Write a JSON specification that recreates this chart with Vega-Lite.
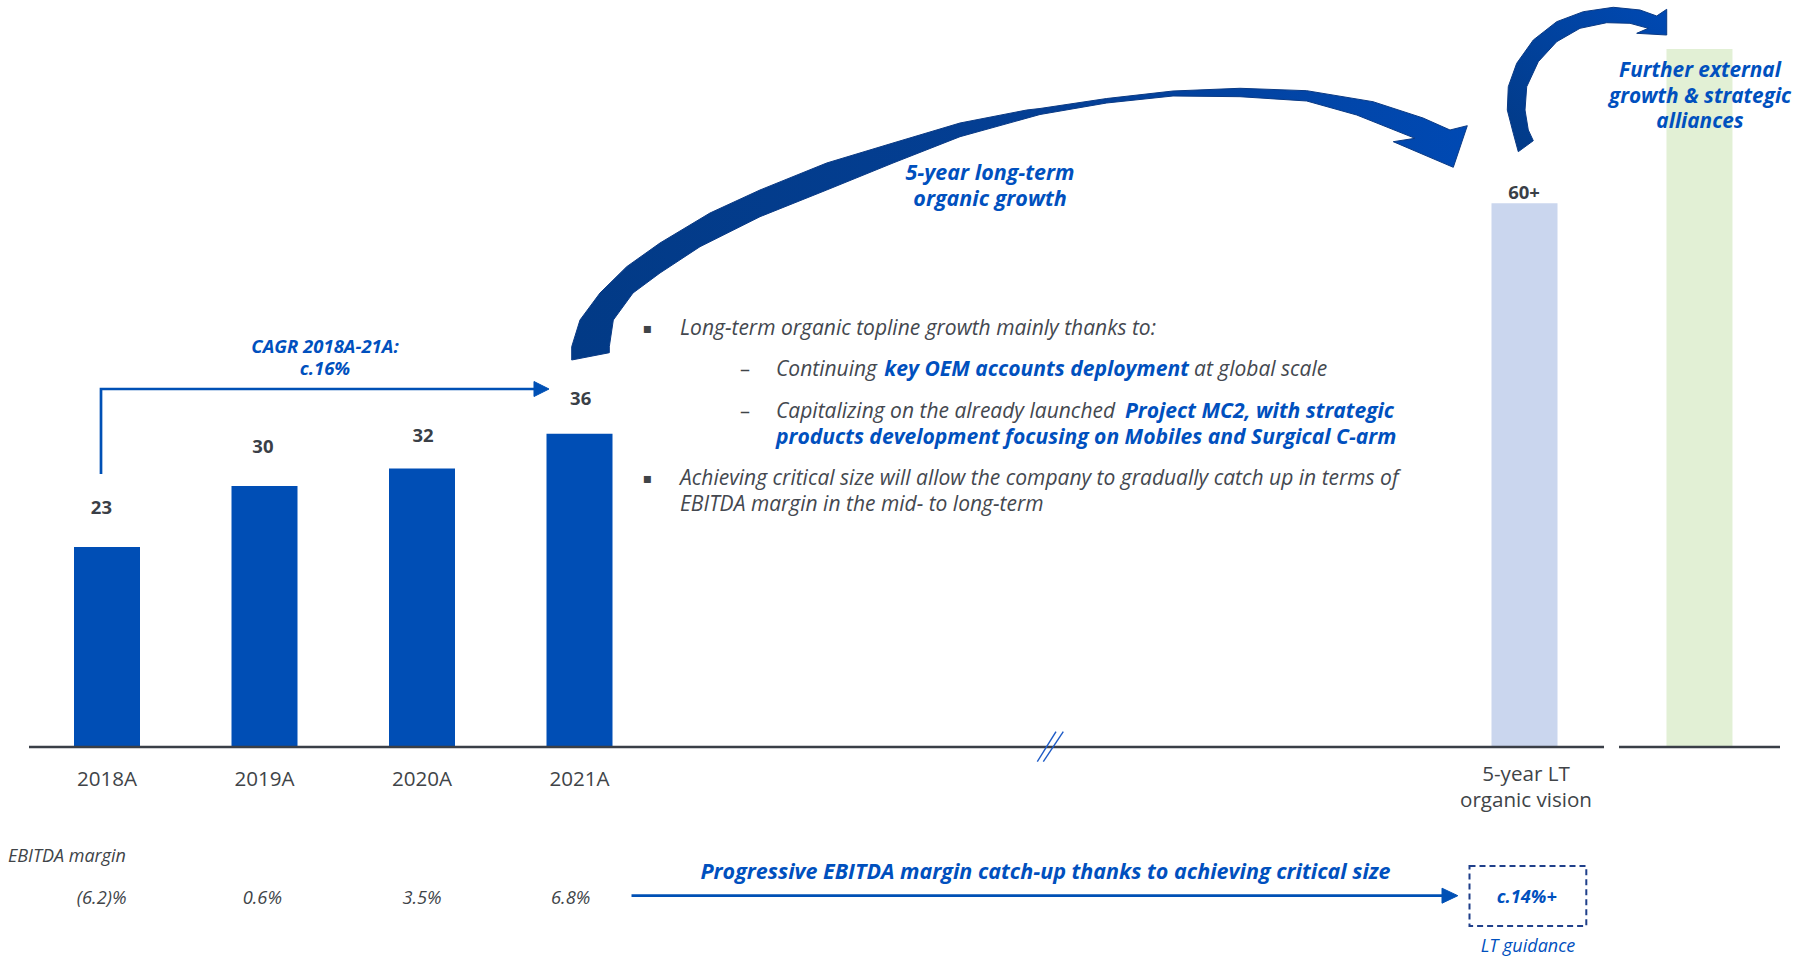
{
  "$schema": "https://vega.github.io/schema/vega-lite/v6.json",
  "width": 1816,
  "height": 956,
  "autosize": "none",
  "padding": 0,
  "background": "#ffffff",
  "config": {"view": {"stroke": null}, "font": "Open Sans"},
  "datasets": {
    "bars": [
      {"period": "2018A", "x": 1, "y": 23, "kind": "actual"},
      {"period": "2019A", "x": 2, "y": 30, "kind": "actual"},
      {"period": "2020A", "x": 3, "y": 32, "kind": "actual"},
      {"period": "2021A", "x": 4, "y": 36, "kind": "actual"},
      {"period": "5-year LT organic vision", "x": 10, "y": 62.5, "kind": "vision"},
      {"period": "Further external growth", "x": 11.111, "y": 80.23, "kind": "external"}
    ],
    "segments": [
      {"id": "axis", "x": 0.5048, "x2": 10.5048, "y": 0, "y2": 0},
      {"id": "axis2", "x": 10.6, "x2": 11.6222, "y": 0, "y2": 0},
      {"id": "break1", "x": 6.9067, "x2": 7.0254, "y": -1.69, "y2": 1.759},
      {"id": "break2", "x": 6.9448, "x2": 7.0717, "y": -1.69, "y2": 1.759}
    ],
    "paths": [
      {"id": "cagr", "i": 0, "x": 0.9619, "y": 31.379},
      {"id": "cagr", "i": 1, "x": 0.9619, "y": 41.149},
      {"id": "cagr", "i": 2, "x": 3.7238, "y": 41.149},
      {"id": "ebitda", "i": 0, "x": 4.3302, "y": -17.092},
      {"id": "ebitda", "i": 1, "x": 9.4889, "y": -17.092}
    ],
    "heads": [
      {"id": "cagr", "i": 0, "x": 3.7111, "y": 42.011},
      {"id": "cagr", "i": 1, "x": 3.8063, "y": 41.149},
      {"id": "cagr", "i": 2, "x": 3.7111, "y": 40.287},
      {"id": "cagr", "i": 3, "x": 3.7111, "y": 42.011},
      {"id": "ebitda", "i": 0, "x": 9.4762, "y": -16.23},
      {"id": "ebitda", "i": 1, "x": 9.5765, "y": -17.092},
      {"id": "ebitda", "i": 2, "x": 9.4762, "y": -17.954},
      {"id": "ebitda", "i": 3, "x": 9.4762, "y": -16.23}
    ],
    "organic": [
      {"i": 0, "x": 3.9505, "y": 44.483}, {"i": 1, "x": 3.9505, "y": 46.011},
      {"i": 2, "x": 4.0032, "y": 49.08}, {"i": 3, "x": 4.1302, "y": 52.184},
      {"i": 4, "x": 4.2997, "y": 55.207}, {"i": 5, "x": 4.5111, "y": 57.931},
      {"i": 6, "x": 4.8286, "y": 61.379}, {"i": 7, "x": 5.146, "y": 64.023},
      {"i": 8, "x": 5.5695, "y": 67.126}, {"i": 9, "x": 5.9905, "y": 69.425},
      {"i": 10, "x": 6.4159, "y": 71.724}, {"i": 11, "x": 6.8394, "y": 73.218},
      {"i": 12, "x": 6.9238, "y": 73.391}, {"i": 13, "x": 7.3473, "y": 74.54},
      {"i": 14, "x": 7.7683, "y": 75.402}, {"i": 15, "x": 8.1937, "y": 75.713},
      {"i": 16, "x": 8.6171, "y": 75.437}, {"i": 17, "x": 9.0381, "y": 74.172},
      {"i": 18, "x": 9.3556, "y": 72.299}, {"i": 19, "x": 9.527, "y": 70.92},
      {"i": 20, "x": 9.6368, "y": 71.414}, {"i": 21, "x": 9.5479, "y": 66.632},
      {"i": 22, "x": 9.167, "y": 69.575}, {"i": 23, "x": 9.3048, "y": 69.966},
      {"i": 24, "x": 8.9346, "y": 72.644}, {"i": 25, "x": 8.6171, "y": 74.253},
      {"i": 26, "x": 8.1937, "y": 74.747}, {"i": 27, "x": 7.7683, "y": 74.828},
      {"i": 28, "x": 7.3473, "y": 74.023}, {"i": 29, "x": 6.9238, "y": 72.701},
      {"i": 30, "x": 6.4159, "y": 70.149}, {"i": 31, "x": 5.9905, "y": 67.126},
      {"i": 32, "x": 5.5695, "y": 64.023}, {"i": 33, "x": 5.146, "y": 60.954},
      {"i": 34, "x": 4.7651, "y": 57.506}, {"i": 35, "x": 4.5111, "y": 54.483},
      {"i": 36, "x": 4.3397, "y": 52.184}, {"i": 37, "x": 4.2146, "y": 49.08},
      {"i": 38, "x": 4.1892, "y": 46.011}, {"i": 39, "x": 4.1892, "y": 45.322},
      {"i": 40, "x": 3.9505, "y": 44.483}
    ],
    "external": [
      {"i": 0, "x": 9.9606, "y": 68.425}, {"i": 1, "x": 9.9289, "y": 70.54},
      {"i": 2, "x": 9.8908, "y": 73.218}, {"i": 3, "x": 9.8971, "y": 75.897},
      {"i": 4, "x": 9.9505, "y": 78.586}, {"i": 5, "x": 10.0559, "y": 81.264},
      {"i": 6, "x": 10.2044, "y": 83.368}, {"i": 7, "x": 10.3733, "y": 84.517},
      {"i": 8, "x": 10.5638, "y": 85.023}, {"i": 9, "x": 10.7333, "y": 84.713},
      {"i": 10, "x": 10.8394, "y": 84.023}, {"i": 11, "x": 10.9029, "y": 84.793},
      {"i": 12, "x": 10.9029, "y": 81.839}, {"i": 13, "x": 10.7124, "y": 82.034},
      {"i": 14, "x": 10.786, "y": 82.609}, {"i": 15, "x": 10.6698, "y": 83.184},
      {"i": 16, "x": 10.5219, "y": 83.253}, {"i": 17, "x": 10.3524, "y": 82.609},
      {"i": 18, "x": 10.2044, "y": 81.069}, {"i": 19, "x": 10.0876, "y": 78.77},
      {"i": 20, "x": 10.014, "y": 75.897}, {"i": 21, "x": 10.0032, "y": 73.218},
      {"i": 22, "x": 10.0241, "y": 70.92}, {"i": 23, "x": 10.0559, "y": 69.69},
      {"i": 24, "x": 9.9606, "y": 68.425}
    ],
    "box": [
      {"label": "LT guidance", "x": 9.6508, "x2": 10.3924, "y": -13.678, "y2": -20.575}
    ],
    "notes": [
      {"role": "value", "text": "23", "x": 0.9644, "y": 27.494},
      {"role": "value", "text": "30", "x": 1.9898, "y": 34.483},
      {"role": "value", "text": "32", "x": 3.0063, "y": 35.747},
      {"role": "value", "text": "36", "x": 4.0076, "y": 40.034},
      {"role": "value", "text": "60+", "x": 9.9968, "y": 63.713},
      {"role": "period", "text": "2018A", "x": 1, "y": -3.828},
      {"role": "period", "text": "2019A", "x": 2, "y": -3.828},
      {"role": "period", "text": "2020A", "x": 3, "y": -3.828},
      {"role": "period", "text": "2021A", "x": 4, "y": -3.828},
      {"role": "period", "text": "5-year LT", "x": 10.0095, "y": -3.218},
      {"role": "period", "text": "organic vision", "x": 10.0095, "y": -6.172},
      {"role": "margin_head", "text": "EBITDA margin", "x": 0.3714, "y": -12.609},
      {"role": "margin", "text": "(6.2)%", "x": 0.9657, "y": -17.471},
      {"role": "margin", "text": "0.6%", "x": 1.986, "y": -17.471},
      {"role": "margin", "text": "3.5%", "x": 3.0, "y": -17.471},
      {"role": "margin", "text": "6.8%", "x": 3.9435, "y": -17.471},
      {"role": "cagr_label", "text": "CAGR 2018A-21A:", "x": 2.3841, "y": 46.034},
      {"role": "cagr_label", "text": "c.16%", "x": 2.3841, "y": 43.448},
      {"role": "guidance_value", "text": "c.14%+", "x": 10.0146, "y": -17.391},
      {"role": "arc_label", "text": "5-year long-term", "x": 6.6063, "y": 65.828},
      {"role": "arc_label", "text": "organic growth", "x": 6.6063, "y": 62.874},
      {"role": "alliance_label", "text": "Further external", "x": 11.1143, "y": 77.701},
      {"role": "alliance_label", "text": "growth & strategic", "x": 11.1143, "y": 74.747},
      {"role": "alliance_label", "text": "alliances", "x": 11.1143, "y": 71.874},
      {"role": "catchup_label", "text": "Progressive EBITDA margin catch-up thanks to achieving critical size", "x": 6.9587, "y": -14.483},
      {"role": "guidance_note", "text": "LT guidance", "x": 10.0222, "y": -22.954},
      {"role": "body", "text": "Long-term organic topline growth mainly thanks to:", "x": 4.6381, "y": 48.046},
      {"role": "body", "text": "Continuing", "x": 5.2476, "y": 43.333},
      {"role": "body", "text": "at global scale", "x": 7.9016, "y": 43.333},
      {"role": "body", "text": "Capitalizing on the already launched", "x": 5.2476, "y": 38.54},
      {"role": "body", "text": "Achieving critical size will allow the company to gradually catch up in terms of", "x": 4.6381, "y": 30.805},
      {"role": "body", "text": "EBITDA margin in the mid- to long-term", "x": 4.6381, "y": 27.816},
      {"role": "emph", "text": "key OEM accounts deployment", "x": 5.9352, "y": 43.333},
      {"role": "emph", "text": "Project MC2, with strategic", "x": 7.4635, "y": 38.54},
      {"role": "emph", "text": "products development focusing on Mobiles and Surgical C-arm", "x": 5.2476, "y": 35.552},
      {"role": "bullet", "text": "▪", "x": 4.4317, "y": 48.046},
      {"role": "bullet", "text": "▪", "x": 4.4317, "y": 30.805},
      {"role": "dash", "text": "–", "x": 5.0508, "y": 43.333},
      {"role": "dash", "text": "–", "x": 5.0508, "y": 38.54}
    ]
  },
  "encoding": {
    "x": {"field": "x", "type": "quantitative", "scale": {"domain": [0.32063, 11.85079], "nice": false, "zero": false, "padding": 0}, "axis": null},
    "y": {"field": "y", "type": "quantitative", "scale": {"domain": [-24.023, 85.862], "nice": false, "zero": false, "padding": 0}, "axis": null}
  },
  "layer": [
    {
      "data": {"name": "bars"},
      "mark": {"type": "bar", "width": 66},
      "encoding": {
        "y2": {"datum": 0},
        "color": {"field": "kind", "type": "nominal", "legend": null,
          "scale": {"domain": ["actual", "vision", "external"], "range": ["#004EB5", "#CAD6EE", "#E2F0D5"]}}
      }
    },
    {
      "data": {"name": "segments"},
      "transform": [{"filter": "datum.id === 'axis' || datum.id === 'axis2'"}],
      "mark": {"type": "rule", "color": "#3A3F47", "strokeWidth": 2.5},
      "encoding": {"x2": {"field": "x2"}, "y2": {"field": "y2"}}
    },
    {
      "data": {"name": "segments"},
      "transform": [{"filter": "datum.id === 'break1' || datum.id === 'break2'"}],
      "mark": {"type": "rule", "color": "#1E5BC6", "strokeWidth": 1.4},
      "encoding": {"x2": {"field": "x2"}, "y2": {"field": "y2"}}
    },
    {
      "data": {"name": "paths"},
      "mark": {"type": "line", "color": "#0050B5", "strokeWidth": 2.7},
      "encoding": {"order": {"field": "i"}, "detail": {"field": "id"}}
    },
    {
      "data": {"name": "heads"},
      "mark": {"type": "line", "fill": "#0050B5", "stroke": "#0050B5", "strokeWidth": 1},
      "encoding": {"order": {"field": "i"}, "detail": {"field": "id"}}
    },
    {
      "data": {"name": "organic"},
      "mark": {"type": "line", "strokeWidth": 1, "stroke": "#0A3A85", "strokeJoin": "miter",
        "fill": {"gradient": "linear", "x1": 0, "y1": 0.5, "x2": 1, "y2": 0.5,
          "stops": [{"offset": 0, "color": "#023A86"}, {"offset": 0.55, "color": "#043F95"}, {"offset": 1, "color": "#0049B3"}]}},
      "encoding": {"order": {"field": "i"}}
    },
    {
      "data": {"name": "external"},
      "mark": {"type": "line", "strokeWidth": 1, "stroke": "#0A3A85", "strokeJoin": "miter",
        "fill": {"gradient": "linear", "x1": 0, "y1": 1, "x2": 1, "y2": 0,
          "stops": [{"offset": 0, "color": "#023A86"}, {"offset": 1, "color": "#0049B3"}]}},
      "encoding": {"order": {"field": "i"}}
    },
    {
      "data": {"name": "box"},
      "mark": {"type": "rect", "filled": false, "stroke": "#1F3F8A", "strokeWidth": 2, "strokeDash": [6, 4]},
      "encoding": {"x2": {"field": "x2"}, "y2": {"field": "y2"}}
    },
    {
      "data": {"name": "notes"},
      "transform": [{"filter": "datum.role === 'value'"}],
      "mark": {"type": "text", "font": "Open Sans", "fontWeight": "bold", "fontSize": 18.5, "color": "#3A3F47", "align": "center", "baseline": "middle"},
      "encoding": {"text": {"field": "text"}}
    },
    {
      "data": {"name": "notes"},
      "transform": [{"filter": "datum.role === 'period'"}],
      "mark": {"type": "text", "font": "Open Sans", "fontSize": 20.6, "color": "#404448", "align": "center", "baseline": "middle"},
      "encoding": {"text": {"field": "text"}}
    },
    {
      "data": {"name": "notes"},
      "transform": [{"filter": "datum.role === 'margin_head'"}],
      "mark": {"type": "text", "font": "Open Sans", "fontStyle": "italic", "fontSize": 18, "color": "#404448", "align": "left", "baseline": "middle"},
      "encoding": {"text": {"field": "text"}}
    },
    {
      "data": {"name": "notes"},
      "transform": [{"filter": "datum.role === 'margin'"}],
      "mark": {"type": "text", "font": "Open Sans", "fontStyle": "italic", "fontSize": 18.3, "color": "#404448", "align": "center", "baseline": "middle"},
      "encoding": {"text": {"field": "text"}}
    },
    {
      "data": {"name": "notes"},
      "transform": [{"filter": "datum.role === 'cagr_label'"}],
      "mark": {"type": "text", "font": "Open Sans", "fontStyle": "italic", "fontWeight": "bold", "fontSize": 18.5, "color": "#0050BE", "align": "center", "baseline": "middle"},
      "encoding": {"text": {"field": "text"}}
    },
    {
      "data": {"name": "notes"},
      "transform": [{"filter": "datum.role === 'guidance_value'"}],
      "mark": {"type": "text", "font": "Open Sans", "fontStyle": "italic", "fontWeight": "bold", "fontSize": 18.2, "color": "#0050BE", "align": "center", "baseline": "middle"},
      "encoding": {"text": {"field": "text"}}
    },
    {
      "data": {"name": "notes"},
      "transform": [{"filter": "datum.role === 'arc_label'"}],
      "mark": {"type": "text", "font": "Open Sans", "fontStyle": "italic", "fontWeight": "bold", "fontSize": 21.5, "color": "#0050BE", "align": "center", "baseline": "middle"},
      "encoding": {"text": {"field": "text"}}
    },
    {
      "data": {"name": "notes"},
      "transform": [{"filter": "datum.role === 'alliance_label'"}],
      "mark": {"type": "text", "font": "Open Sans", "fontStyle": "italic", "fontWeight": "bold", "fontSize": 20.8, "color": "#0050BE", "align": "center", "baseline": "middle"},
      "encoding": {"text": {"field": "text"}}
    },
    {
      "data": {"name": "notes"},
      "transform": [{"filter": "datum.role === 'catchup_label'"}],
      "mark": {"type": "text", "font": "Open Sans", "fontStyle": "italic", "fontWeight": "bold", "fontSize": 21.5, "color": "#0050BE", "align": "center", "baseline": "middle"},
      "encoding": {"text": {"field": "text"}}
    },
    {
      "data": {"name": "notes"},
      "transform": [{"filter": "datum.role === 'guidance_note'"}],
      "mark": {"type": "text", "font": "Open Sans", "fontStyle": "italic", "fontSize": 18, "color": "#0050BE", "align": "center", "baseline": "middle"},
      "encoding": {"text": {"field": "text"}}
    },
    {
      "data": {"name": "notes"},
      "transform": [{"filter": "datum.role === 'body'"}],
      "mark": {"type": "text", "font": "Open Sans", "fontStyle": "italic", "fontSize": 21, "color": "#44484F", "align": "left", "baseline": "middle"},
      "encoding": {"text": {"field": "text"}}
    },
    {
      "data": {"name": "notes"},
      "transform": [{"filter": "datum.role === 'emph'"}],
      "mark": {"type": "text", "font": "Open Sans", "fontStyle": "italic", "fontWeight": "bold", "fontSize": 21.1, "color": "#0050BE", "align": "left", "baseline": "middle"},
      "encoding": {"text": {"field": "text"}}
    },
    {
      "data": {"name": "notes"},
      "transform": [{"filter": "datum.role === 'bullet'"}],
      "mark": {"type": "text", "font": "DejaVu Sans", "fontSize": 14, "color": "#404448", "align": "center", "baseline": "middle"},
      "encoding": {"text": {"field": "text"}}
    },
    {
      "data": {"name": "notes"},
      "transform": [{"filter": "datum.role === 'dash'"}],
      "mark": {"type": "text", "font": "Open Sans", "fontSize": 20, "color": "#404448", "align": "center", "baseline": "middle"},
      "encoding": {"text": {"field": "text"}}
    }
  ]
}
